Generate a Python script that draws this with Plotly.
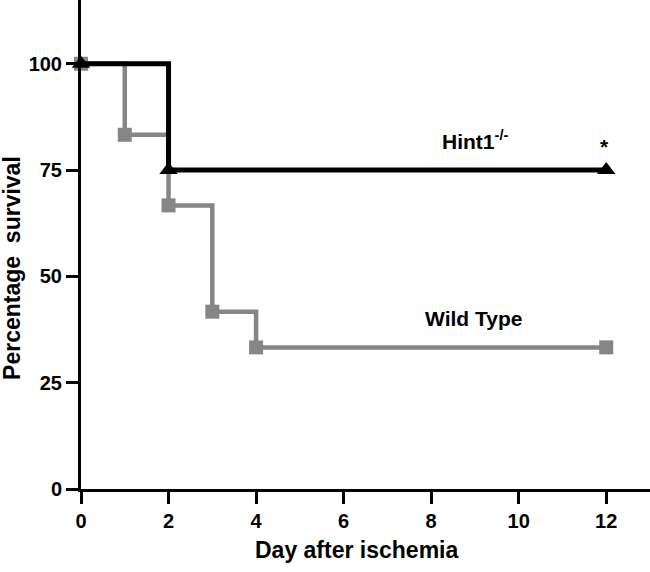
import plotly.graph_objects as go

days_wt = [0, 1, 2, 3, 4, 12]
surv_wt = [100, 83.3, 66.7, 41.7, 33.3, 33.3]
days_ko = [0, 2, 12]
surv_ko = [100, 75, 75]
x_ticks = [0, 2, 4, 6, 8, 10, 12]
y_ticks = [0, 25, 50, 75, 100]

FONT = "Liberation Sans, Arial, sans-serif"

fig = go.Figure()
fig.add_trace(go.Scatter(
    x=days_wt, y=surv_wt, mode="lines+markers", line_shape="hv",
    line=dict(color="#868686", width=4.5),
    marker=dict(symbol="square", size=14, color="#868686"),
    cliponaxis=False, showlegend=False))
fig.add_trace(go.Scatter(
    x=days_ko, y=surv_ko, mode="lines+markers", line_shape="hv",
    line=dict(color="black", width=5),
    marker=dict(symbol="triangle-up", size=16, color="black"),
    cliponaxis=False, showlegend=False))

fig.add_annotation(x=9.0, y=82, text="<b>Hint1<sup>-/-</sup></b>", showarrow=False,
                   font=dict(family=FONT, size=21, color="black"))
fig.add_annotation(x=11.95, y=80.5, text="<b>*</b>", showarrow=False,
                   font=dict(family=FONT, size=21, color="black"))
fig.add_annotation(x=8.97, y=40.2, text="<b>Wild Type</b>", showarrow=False,
                   font=dict(family=FONT, size=21, color="black"))

# axis titles as annotations to match placement
fig.add_annotation(xref="paper", yref="paper", x=0.485, y=-0.1247,
                   text="<b>Day after ischemia</b>", showarrow=False,
                   xanchor="center", yanchor="middle",
                   font=dict(family=FONT, size=23, color="black"))
fig.add_annotation(xref="paper", yref="paper", x=-0.1213, y=0.452,
                   text="<b>Percentage  survival</b>", showarrow=False, textangle=-90,
                   xanchor="center", yanchor="middle",
                   font=dict(family=FONT, size=23, color="black"))

fig.update_layout(
    width=650, height=572,
    margin=dict(l=81, r=0, t=0, b=83),
    plot_bgcolor="white", paper_bgcolor="white",
    font=dict(family=FONT, color="black"),
)
fig.update_xaxes(
    range=[0, 13], tickmode="array", tickvals=x_ticks,
    ticktext=[f"<b>{v}</b>" for v in x_ticks],
    ticks="outside", ticklen=12, tickwidth=3, tickcolor="black",
    showline=True, linecolor="black", linewidth=3, showgrid=False, zeroline=False,
    tickfont=dict(family=FONT, size=20), automargin=False,
)
fig.update_yaxes(
    range=[0, 115], tickmode="array", tickvals=y_ticks,
    ticktext=[f"<b>{v}</b>" for v in y_ticks],
    ticks="outside", ticklen=12, tickwidth=3, tickcolor="black",
    showline=True, linecolor="black", linewidth=3, showgrid=False, zeroline=False,
    tickfont=dict(family=FONT, size=20), automargin=False,
)

fig.write_html("out.html", config={"displayModeBar": False},
               post_script="document.body.style.margin='0';document.body.style.overflow='hidden';")
